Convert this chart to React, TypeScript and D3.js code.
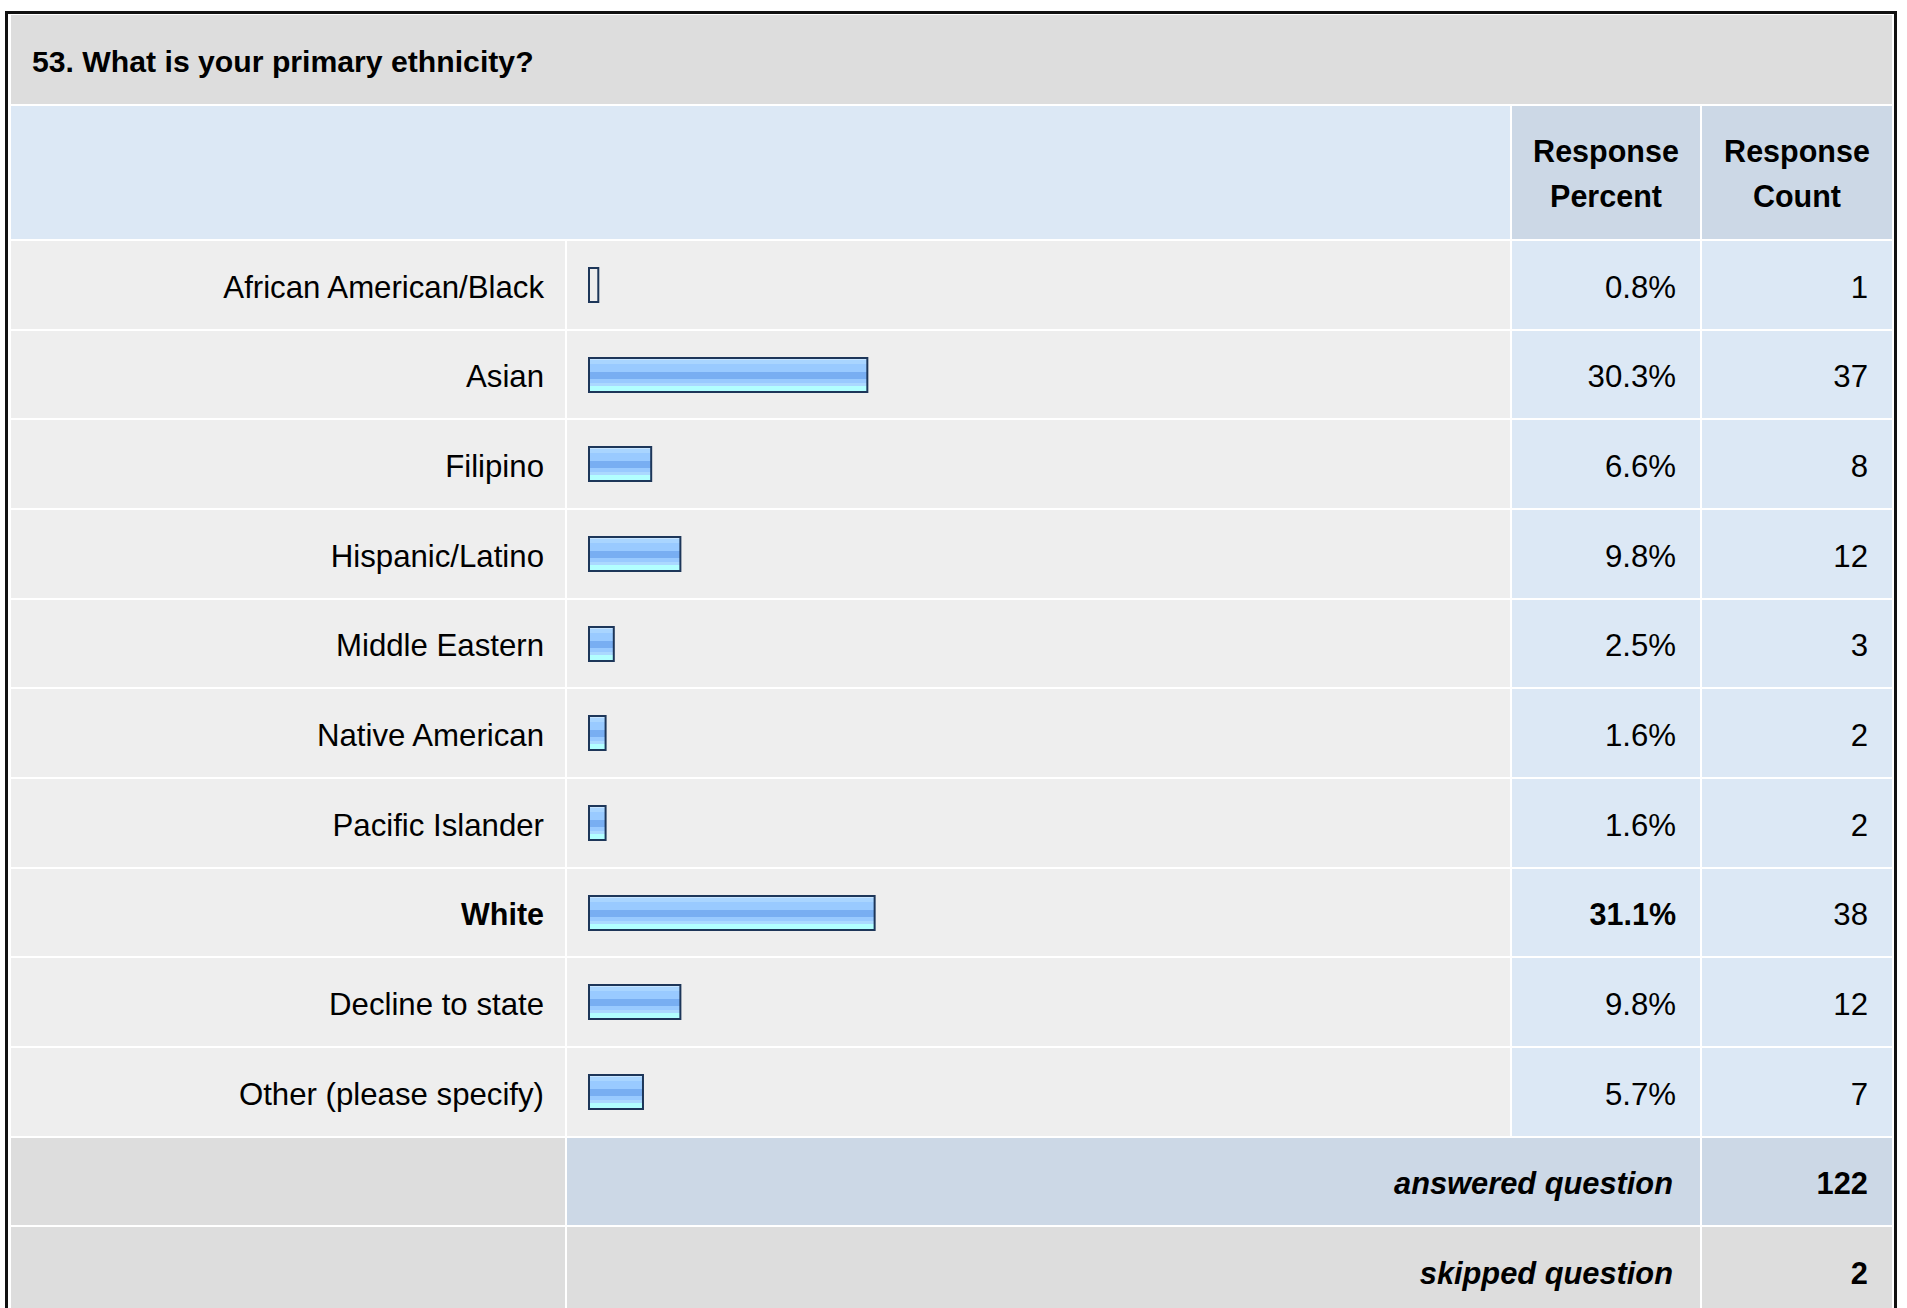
import React from "react";
import * as d3 from "d3";

const title = "53. What is your primary ethnicity?";
const categories = [
  "African American/Black",
  "Asian",
  "Filipino",
  "Hispanic/Latino",
  "Middle Eastern",
  "Native American",
  "Pacific Islander",
  "White",
  "Decline to state",
  "Other (please specify)",
];
const percents = [0.8, 30.3, 6.6, 9.8, 2.5, 1.6, 1.6, 31.1, 9.8, 5.7];
const counts = [1, 37, 8, 12, 3, 2, 2, 38, 12, 7];
const headerPercent = ["Response", "Percent"];
const headerCount = ["Response", "Count"];
const footerLabels = ["answered question", "skipped question"];
const footerValues = [122, 2];

const W = 1907;
const H = 1308;
const FONT = "'Liberation Sans', Arial, Helvetica, sans-serif";

export default function App() {
  const L = 11; // content left
  const R = 1892; // content right
  const colLabelR = 565;
  const colBarL = 567;
  const colBarR = 1510;
  const colPctL = 1512;
  const colPctR = 1700;
  const colCntL = 1702;
  const titleTop = 15;
  const titleBot = 104;
  const headTop = 106;
  const headBot = 239;
  const rowTop = 241;
  const step = 89.67;

  const rowNames = [...categories, ...footerLabels];
  const y = d3
    .scaleBand<string>()
    .domain(rowNames)
    .range([rowTop, rowTop + step * rowNames.length])
    .paddingInner(0)
    .paddingOuter(0);

  const x = d3.scaleLinear().domain([0, 100]).range([0, 912]);
  const maxP = d3.max(percents) as number;

  const rt = (name: string) => Math.round(y(name) as number);
  const rh = (name: string) => Math.round((y(name) as number) + step) - 2 - rt(name);

  const stripes: [number, string][] = [
    [0, "#c6e4ff"],
    [0.07, "#c6e4ff"],
    [0.07, "#a9d5ff"],
    [0.18, "#a9d5ff"],
    [0.18, "#99caff"],
    [0.4, "#99caff"],
    [0.4, "#78aef2"],
    [0.61, "#78aef2"],
    [0.61, "#99caff"],
    [0.74, "#99caff"],
    [0.74, "#abd9ff"],
    [0.82, "#abd9ff"],
    [0.82, "#b2ffff"],
    [1, "#b2ffff"],
  ];

  return (
    <svg
      width={W}
      height={H}
      style={{ position: "absolute", left: 0, top: 0, background: "#fff" }}
      fontFamily={FONT}
    >
      <defs>
        <linearGradient id="barGrad" x1="0" y1="0" x2="0" y2="1">
          {stripes.map((s, i) => (
            <stop key={i} offset={s[0]} stopColor={s[1]} />
          ))}
        </linearGradient>
      </defs>
      <rect x={0} y={0} width={W} height={H} fill="#fff" />
      {/* title band */}
      <rect x={L} y={titleTop} width={R - L} height={titleBot - titleTop} fill="#dddddd" />
      <text x={32} y={72} fontSize={30.2} fontWeight="bold" fill="#000">
        {title}
      </text>
      {/* header */}
      <rect x={L} y={headTop} width={colBarR - L} height={headBot - headTop} fill="#dce8f5" />
      <rect x={colPctL} y={headTop} width={colPctR - colPctL} height={headBot - headTop} fill="#ccd8e6" />
      <rect x={colCntL} y={headTop} width={R - colCntL} height={headBot - headTop} fill="#ccd8e6" />
      {[headerPercent, headerCount].map((lines, ci) => {
        const cx = ci === 0 ? (colPctL + colPctR) / 2 : (colCntL + R) / 2;
        return lines.map((t, li) => (
          <text
            key={`${ci}-${li}`}
            x={cx}
            y={162 + li * 45}
            textAnchor="middle"
            fontSize={30.5}
            fontWeight="bold"
            fill="#000"
          >
            {t}
          </text>
        ));
      })}
      {/* data rows */}
      {categories.map((c, i) => {
        const top = rt(c);
        const h = rh(c);
        const cy = top + h / 2;
        const bold = percents[i] === maxP;
        const bw = x(percents[i]);
        return (
          <g key={c}>
            <rect x={L} y={top} width={colLabelR - L} height={h} fill="#eeeeee" />
            <rect x={colBarL} y={top} width={colBarR - colBarL} height={h} fill="#eeeeee" />
            <rect x={colPctL} y={top} width={colPctR - colPctL} height={h} fill="#dce8f5" />
            <rect x={colCntL} y={top} width={R - colCntL} height={h} fill="#dce8f5" />
            <text
              x={544}
              y={cy + 12.5}
              textAnchor="end"
              fontSize={bold ? 30.5 : 31.2}
              fontWeight={bold ? "bold" : "normal"}
              fill="#000"
            >
              {c}
            </text>
            <rect
              x={589}
              y={Math.round(cy) - 17}
              width={bw + 2}
              height={34}
              fill={percents[i] < 1 ? "none" : "url(#barGrad)"}
              stroke="#1d3659"
              strokeWidth={2}
            />
            <text
              x={1676}
              y={cy + 12.5}
              textAnchor="end"
              fontSize={bold ? 30.5 : 31.2}
              fontWeight={bold ? "bold" : "normal"}
              fill="#000"
            >
              {percents[i].toFixed(1) + "%"}
            </text>
            <text x={1868} y={cy + 12.5} textAnchor="end" fontSize={31.2} fill="#000">
              {counts[i]}
            </text>
          </g>
        );
      })}
      {/* footer rows */}
      {footerLabels.map((f, i) => {
        const top = rt(f);
        const h = rh(f);
        const cy = top + h / 2;
        const mid = i === 0 ? "#ccd8e6" : "#dddddd";
        return (
          <g key={f}>
            <rect x={L} y={top} width={colLabelR - L} height={h} fill="#dddddd" />
            <rect x={colBarL} y={top} width={colPctR - colBarL} height={h} fill={mid} />
            <rect x={colCntL} y={top} width={R - colCntL} height={h} fill={mid} />
            <text
              x={1673}
              y={cy + 12.5}
              textAnchor="end"
              fontSize={30.8}
              fontWeight="bold"
              fontStyle="italic"
              fill="#000"
            >
              {f}
            </text>
            <text x={1868} y={cy + 12.5} textAnchor="end" fontSize={30.8} fontWeight="bold" fill="#000">
              {footerValues[i]}
            </text>
          </g>
        );
      })}
      {/* outer border */}
      <rect x={6.5} y={12.5} width={1889} height={H + 20} fill="none" stroke="#111" strokeWidth={3} />
    </svg>
  );
}
